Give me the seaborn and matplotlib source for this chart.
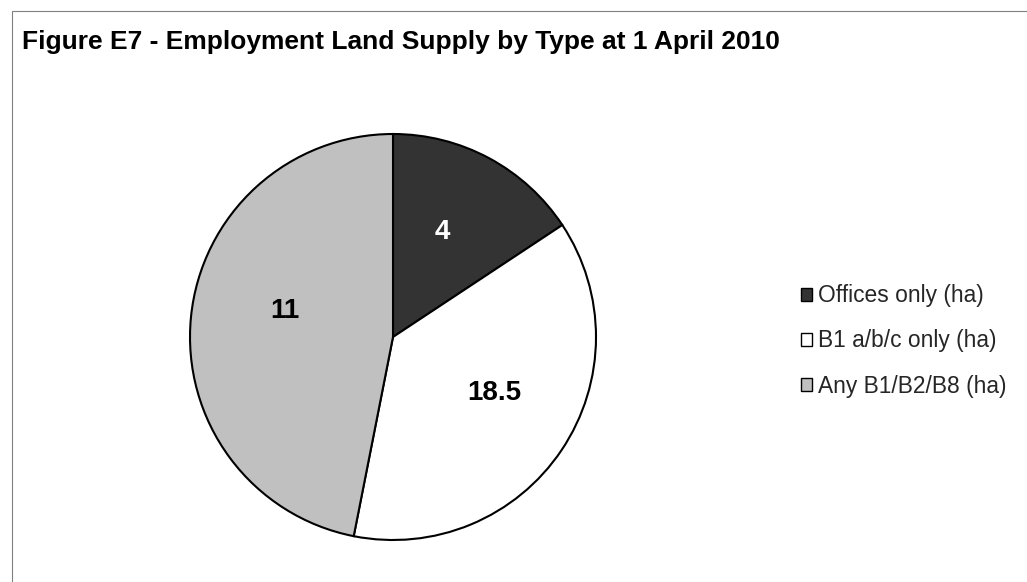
import matplotlib
matplotlib.use("Agg")
import matplotlib.pyplot as plt
import matplotlib.patches as mpatches
import numpy as np
import seaborn as sns

# Data
categories = ["Offices only (ha)", "B1 a/b/c only (ha)", "Any B1/B2/B8 (ha)"]
pie_shares = [15.7, 37.4, 46.9]          # slice sizes as drawn in the reference
label_texts = ["4", "18.5", "11"]         # data labels printed on the slices
slice_colors = ["#333333", "#ffffff", "#c0c0c0"]
label_colors = ["white", "black", "black"]
title = "Figure E7 - Employment Land Supply by Type at 1 April 2010"

sns.set_theme(style="white")
plt.rcParams["font.family"] = ["Liberation Sans", "DejaVu Sans"]

W, H = 1027, 582
fig = plt.figure(figsize=(W / 100, H / 100), dpi=100)
fig.patch.set_facecolor("white")

# outer chart frame
fig.patches.append(mpatches.Rectangle((12 / W, -0.05), 1.2, 1 - 11 / H + 0.05,
                                      transform=fig.transFigure, fill=False,
                                      edgecolor="#808080", lw=0.8))

cx, cy, R = 393, 337, 203
ax = fig.add_axes([(cx - R) / W, (H - cy - R) / H, 2 * R / W, 2 * R / H])
wedges, texts = ax.pie(pie_shares, labels=label_texts, colors=slice_colors,
                       startangle=90, counterclock=False, labeldistance=0.57,
                       wedgeprops=dict(edgecolor="black", linewidth=1.5),
                       textprops=dict(fontsize=20, fontweight="bold"))
# best-fit style placement: small angular nudge (degrees, clockwise) per label
label_nudge = [-3, -5, 8]
label_dist = [0.57, 0.57, 0.55]
for w, t, c, dn, rd in zip(wedges, texts, label_colors, label_nudge, label_dist):
    t.set_color(c)
    t.set_ha("center")
    t.set_va("center")
    mid = np.deg2rad((w.theta1 + w.theta2) / 2 - dn)
    t.set_position((rd * np.cos(mid), rd * np.sin(mid)))
ax.set_xlim(-1, 1)
ax.set_ylim(-1, 1)
ax.set_aspect("equal")
ax.axis("off")

fig.text(22 / W, 1 - 49 / H, title, fontsize=19, fontweight="bold",
         ha="left", va="baseline", color="black")

handles = [mpatches.Patch(facecolor=c, edgecolor="black", linewidth=1.0) for c in slice_colors]
fig.legend(handles, categories, loc="center left",
           bbox_to_anchor=(801 / W, 1 - 341 / H), frameon=False, fontsize=16.4,
           handlelength=0.5, handleheight=0.5, handletextpad=0.25,
           labelspacing=0.98, borderaxespad=0, borderpad=0)

fig.savefig("out.png", dpi=100)
